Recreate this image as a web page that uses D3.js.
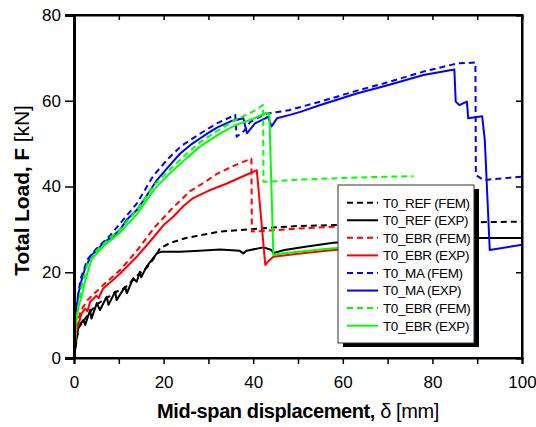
<!DOCTYPE html>
<html>
<head>
<meta charset="utf-8">
<script src="https://cdn.jsdelivr.net/npm/d3@7.9.0/dist/d3.min.js"></script>
<style>
  body { margin: 0; background: #fff; }
  svg { display: block; font-family: 'Liberation Sans', Arial, sans-serif; }
</style>
</head>
<body>
<svg id="chart" width="536" height="427"></svg>
<script>
// displacement [mm], load [kN]
const refFEM = [[0,0],[1,7],[3.6,10.8],[5.1,12.5],[7.3,14],[9.2,15.3],[11.4,16.4],[13.2,18.3],[14.7,19.8],[16.2,21],[18.5,24.2],[19.2,25.6],[21.4,26.8],[25,28],[32.6,29.5],[41.5,30.2],[50,30.8],[58,31],[70,31.3],[85,31.6],[100,31.8]];
const refEXP = [[0,0],[0.5,4],[1,7.3],[2.1,8.9],[2.5,7.7],[3.6,11.2],[3.9,9.2],[5.1,12.8],[5.8,11.2],[7.3,14.3],[7.7,12.4],[9.2,15.5],[9.5,13.5],[11.4,16.6],[11.8,15.1],[13.2,18.6],[14,17.8],[14.7,20.1],[15,18.8],[16.2,21.3],[18.5,24.4],[19.6,24.8],[23.7,24.8],[28,25],[32.6,25.3],[37,25],[37.8,24.4],[38.5,25],[42.3,25.8],[44.1,25.2],[44.5,24.5],[47,25.2],[52,26],[57.9,26.9],[70,27.5],[80,27.8],[87,28],[95,28],[100,28]];
const ebrFEM = [[0,0],[0.5,7],[1.5,11],[3,13.5],[6.5,17],[10.3,20.5],[14,25],[18,30.5],[22,35],[26,39],[28.1,40.3],[32,43],[36,45],[39.6,46.5],[39.7,29.5],[45,29.8],[50,30.2],[57.9,30.6],[70,30.9],[76,31]];
const ebrEXP = [[0,0],[0.3,4],[0.6,6.5],[1.7,10.4],[2.5,11.5],[3,10.9],[3.6,13.1],[5,14.5],[5.5,14],[6.5,16.2],[8.5,18],[10.3,19.7],[12,21.5],[14,23.6],[16,26],[18.5,29.1],[20,31],[22.2,33],[24.5,35.5],[26.6,37.3],[30,39],[34.1,40.7],[38,42.5],[40.8,43.8],[42.7,21.7],[43.3,22.5],[44.5,23.6],[50,24.3],[57.9,25.2],[70,25.8],[80,26.2]];
const maFEM = [[0,0],[0.5,12],[1.5,18.5],[3,23],[5,25.5],[8,28.5],[10,31],[14,36],[17.7,42.5],[21,46.5],[24,49.5],[28.1,52.3],[32,54.8],[36,56.7],[36.3,51.6],[38,53],[39.3,55],[41,56],[43,57],[45,57.3],[48,57.8],[55,59.8],[63,62.3],[70,64.3],[78,66.8],[85.5,68.7],[89.6,68.9],[89.7,42.7],[91.4,41.5],[100,42.3]];
const maEXP = [[0,0],[0.3,6],[0.6,12],[1,15],[1.7,18.2],[2.5,21],[3.9,24],[5,25],[6.5,26.8],[8.8,28.5],[10.3,30],[12,32.5],[14,34.5],[16,37.5],[18.5,41.5],[21,44.5],[23.7,47.7],[26,49.7],[28.1,51.2],[30,52.5],[32,53.8],[35,55.2],[37.8,55.9],[38.6,52.4],[40.4,54.7],[42.7,55.9],[43.3,56.3],[44.1,54],[45.3,55.9],[48.2,56.7],[50.5,57.4],[55,59],[63.1,61.7],[70,63.6],[78,66],[84.9,67.3],[85.2,59.8],[86,59],[87.7,59.8],[88,55.9],[91.1,56.4],[91.7,50.8],[92.8,25.2],[100,26.4]];
const ebr2FEM = [[0,0],[0.5,9],[1.5,16],[3,22],[5,25],[8,28],[10.3,30],[14,34.5],[18,40.5],[21.4,44],[25,47.5],[28.1,50.3],[32,53],[36,55.5],[40,57.5],[42.2,59],[42.3,41.1],[45,41.2],[48.2,41.5],[60,42],[70,42.3],[75.8,42.4]];
const ebr2EXP = [[0,0],[0.5,8],[1,12],[1.7,14.5],[2.5,18],[3.9,23],[6.5,26],[10.3,29.3],[14,33.5],[18,39.5],[21.4,43.1],[25,46.5],[28.1,49.3],[32,52],[36,54.3],[40,55.8],[43,57.2],[43.6,57],[44.5,24],[46,24.3],[50,24.8],[57.9,25.6],[70,26.2],[80,26.6]];

const seriesNames = ['T0_REF (FEM)', 'T0_REF (EXP)', 'T0_EBR (FEM)', 'T0_EBR (EXP)', 'T0_MA (FEM)', 'T0_MA (EXP)', 'T0_EBR (FEM)', 'T0_EBR (EXP)'];
const seriesData = [refFEM, refEXP, ebrFEM, ebrEXP, maFEM, maEXP, ebr2FEM, ebr2EXP];
const seriesColors = ['#000', '#000', '#ff0000', '#ff0000', '#0000ff', '#0000ff', '#00ff00', '#00ff00'];
const seriesDashed = [true, false, true, false, true, false, true, false];

const xTicks = [0, 20, 40, 60, 80, 100];
const xMinor = d3.range(0, 101, 10);
const yTicks = [0, 20, 40, 60, 80];

const margin = { top: 15, right: 14, bottom: 69, left: 74 };
const W = 536, H = 427;
const w = W - margin.left - margin.right;
const h = H - margin.top - margin.bottom;

const svg = d3.select('#chart');
const g = svg.append('g').attr('transform', `translate(${margin.left},${margin.top})`);

const x = d3.scaleLinear().domain([0, 100]).range([0, w]);
const y = d3.scaleLinear().domain([0, 80]).range([h, 0]);

const line = d3.line().x(d => x(d[0])).y(d => y(d[1]));

// curves
seriesData.forEach((data, i) => {
  g.append('path')
    .datum(data)
    .attr('fill', 'none')
    .attr('stroke', seriesColors[i])
    .attr('stroke-width', 2)
    .attr('stroke-linejoin', 'round')
    .attr('stroke-dasharray', seriesDashed[i] ? '6,4' : null)
    .attr('d', line);
});

// frame + axes
g.append('rect')
  .attr('width', w).attr('height', h)
  .attr('fill', 'none').attr('stroke', '#000').attr('stroke-width', 2);

const xAxis = g.append('g')
  .attr('transform', `translate(0,${h})`)
  .call(d3.axisBottom(x).tickValues(xMinor).tickSize(6).tickPadding(12)
    .tickFormat(d => xTicks.includes(d) ? d : ''));
const yAxis = g.append('g')
  .call(d3.axisLeft(y).tickValues(yTicks).tickSize(9).tickPadding(4));

g.append('g').call(d3.axisTop(x).tickValues(xMinor).tickSize(-5).tickFormat(''));
g.append('g').attr('transform', `translate(${w},0)`)
  .call(d3.axisRight(y).tickValues(yTicks).tickSize(-6).tickFormat(''));

g.selectAll('.domain').attr('stroke', '#000').attr('stroke-width', 2);
yAxis.select('.domain').attr('stroke-width', 3);
g.selectAll('.tick line').attr('stroke', '#000').attr('stroke-width', 1.5);
g.selectAll('.tick text')
  .attr('fill', '#000')
  .style('font-size', '17px')
  .style('font-family', "'Liberation Sans', Arial, sans-serif");

// axis titles
const xTitle = svg.append('text')
  .attr('x', margin.left + w / 2)
  .attr('y', 418)
  .attr('text-anchor', 'middle')
  .style('font-size', '20px')
  .style('letter-spacing', '-0.4px');
xTitle.append('tspan').style('font-weight', 'bold').text('Mid-span displacement, ');
xTitle.append('tspan').text('δ [mm]');

const yTitle = svg.append('text')
  .attr('transform', `translate(29,${margin.top + h / 2 + 4}) rotate(-90)`)
  .attr('text-anchor', 'middle')
  .style('font-size', '21px')
  .style('letter-spacing', '-0.1px');
yTitle.append('tspan').style('font-weight', 'bold').text('Total Load, F ');
yTitle.append('tspan').text('[kN]');

// legend
const lg = svg.append('g').attr('transform', 'translate(338,185)');
const lw = 136, lh = 158;
lg.append('rect').attr('x', 5).attr('y', 4).attr('width', lw).attr('height', lh).attr('fill', '#000');
lg.append('rect').attr('width', lw).attr('height', lh).attr('fill', '#fff').attr('stroke', '#333').attr('stroke-width', 1);

seriesNames.forEach((name, i) => {
  const ry = 17.7 + i * 17.57;
  lg.append('line')
    .attr('x1', 9).attr('x2', 40).attr('y1', ry).attr('y2', ry)
    .attr('stroke', seriesColors[i]).attr('stroke-width', 2)
    .attr('stroke-dasharray', seriesDashed[i] ? '6,4' : null);
  lg.append('text')
    .attr('x', 45).attr('y', ry).attr('dy', '0.36em')
    .style('font-size', '13.5px')
    .style('letter-spacing', '-0.4px')
    .text(name);
});
</script>
</body>
</html>
